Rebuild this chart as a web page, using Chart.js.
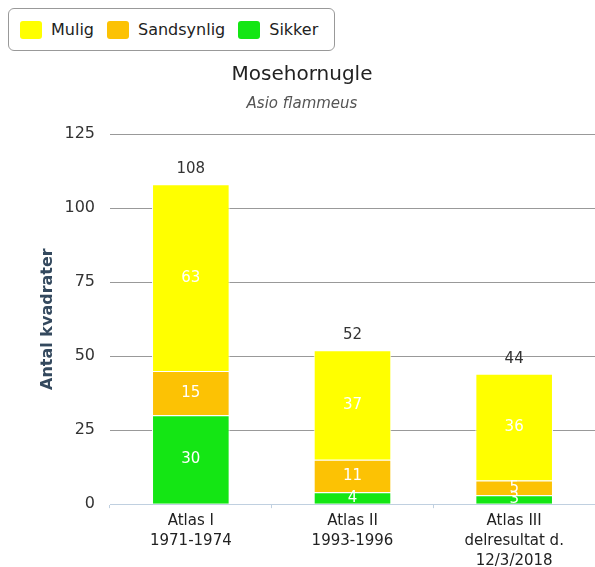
<!DOCTYPE html>
<html>
<head>
<meta charset="utf-8">
<script src="https://cdn.jsdelivr.net/npm/chart.js@4"></script>
<style>
  body { margin: 0; background: #fff; font-family: "DejaVu Sans", sans-serif; }
  #wrap { position: relative; width: 595px; height: 567px; }
  #legend {
    position: absolute; left: 8px; top: 8px; width: 327px; height: 43px;
    border: 1px solid #999; border-radius: 6px; background: #fff;
    display: flex; align-items: center; padding-left: 11px; box-sizing: border-box;
    font-size: 16px; color: #222;
  }
  #legend .item { display: flex; align-items: center; margin-right: 13px; }
  #legend .box { width: 22px; height: 18px; border-radius: 3px; margin-right: 9px; }
</style>
</head>
<body>
<div id="wrap">
  <canvas id="chart" width="595" height="567"></canvas>
  <div id="legend"></div>
</div>
<script>
const categories = [
  ['Atlas I', '1971-1974'],
  ['Atlas II', '1993-1996'],
  ['Atlas III', 'delresultat d.', '12/3/2018']
];
const sikker = [30, 4, 3];
const sandsynlig = [15, 11, 5];
const mulig = [63, 37, 36];
const yTicks = [0, 25, 50, 75, 100, 125];

const colors = { mulig: '#ffff00', sandsynlig: '#fcc204', sikker: '#14e614' };

// legend in the same order as the original: Mulig, Sandsynlig, Sikker
const legendItems = [['Mulig', colors.mulig], ['Sandsynlig', colors.sandsynlig], ['Sikker', colors.sikker]];
const legendEl = document.getElementById('legend');
legendItems.forEach(([name, col]) => {
  const it = document.createElement('div');
  it.className = 'item';
  it.innerHTML = '<div class="box" style="background:' + col + '"></div><span>' + name + '</span>';
  legendEl.appendChild(it);
});

const totals = sikker.map((v, i) => v + sandsynlig[i] + mulig[i]);

const labelPlugin = {
  id: 'barLabels',
  afterDatasetsDraw(chart) {
    const c = chart.ctx;
    c.save();
    c.textAlign = 'center';
    c.textBaseline = 'middle';
    chart.data.datasets.forEach((ds, di) => {
      const meta = chart.getDatasetMeta(di);
      meta.data.forEach((bar, i) => {
        c.font = '15px "DejaVu Sans"';
        c.fillStyle = '#ffffff';
        c.fillText(ds.data[i], bar.x, (bar.y + bar.base) / 2);
        if (di === chart.data.datasets.length - 1) {
          c.fillStyle = '#333333';
          c.fillText(totals[i], bar.x, bar.y - 15);
        }
      });
    });
    c.restore();
  }
};

new Chart(document.getElementById('chart').getContext('2d'), {
  type: 'bar',
  data: {
    labels: categories,
    datasets: [
      { label: 'Sikker', data: sikker, backgroundColor: colors.sikker },
      { label: 'Sandsynlig', data: sandsynlig, backgroundColor: colors.sandsynlig },
      { label: 'Mulig', data: mulig, backgroundColor: colors.mulig }
    ].map(d => Object.assign(d, { borderColor: '#ffffff', borderWidth: 1, barPercentage: 0.48, categoryPercentage: 1 }))
  },
  options: {
    responsive: false,
    animation: false,
    layout: { padding: { top: 0, bottom: -7, left: 9, right: 0 } },
    plugins: {
      legend: { display: false },
      tooltip: { enabled: false },
      title: {
        display: true, text: 'Mosehornugle', color: '#222',
        font: { family: 'DejaVu Sans', size: 20, weight: 'normal' },
        padding: { top: 63, bottom: 5 }
      },
      subtitle: {
        display: true, text: 'Asio flammeus', color: '#555',
        font: { family: 'DejaVu Sans', size: 15, style: 'italic' },
        padding: { top: 3, bottom: 21 }
      }
    },
    scales: {
      x: {
        stacked: true,
        grid: { display: true, offset: true, drawOnChartArea: false, drawTicks: true, tickLength: 4, color: '#c0d0e0' },
        border: { color: '#c0d0e0' },
        ticks: { color: '#222', font: { family: 'DejaVu Sans', size: 15, lineHeight: 1.33 }, padding: 3, maxRotation: 0 }
      },
      y: {
        stacked: true, min: 0, max: 125,
        afterBuildTicks: s => { s.ticks = yTicks.map(v => ({ value: v })); },
        afterFit: s => { s.width = 101; },
        grid: { color: '#999999', drawTicks: false },
        border: { display: false },
        ticks: { color: '#333', font: { family: 'DejaVu Sans', size: 16 }, padding: 15 },
        title: { display: true, text: 'Antal kvadrater', color: '#34495e', font: { family: 'DejaVu Sans', size: 16, weight: 'bold' }, padding: { top: 29, bottom: 0 } }
      }
    }
  },
  plugins: [labelPlugin]
});
</script>
</body>
</html>
